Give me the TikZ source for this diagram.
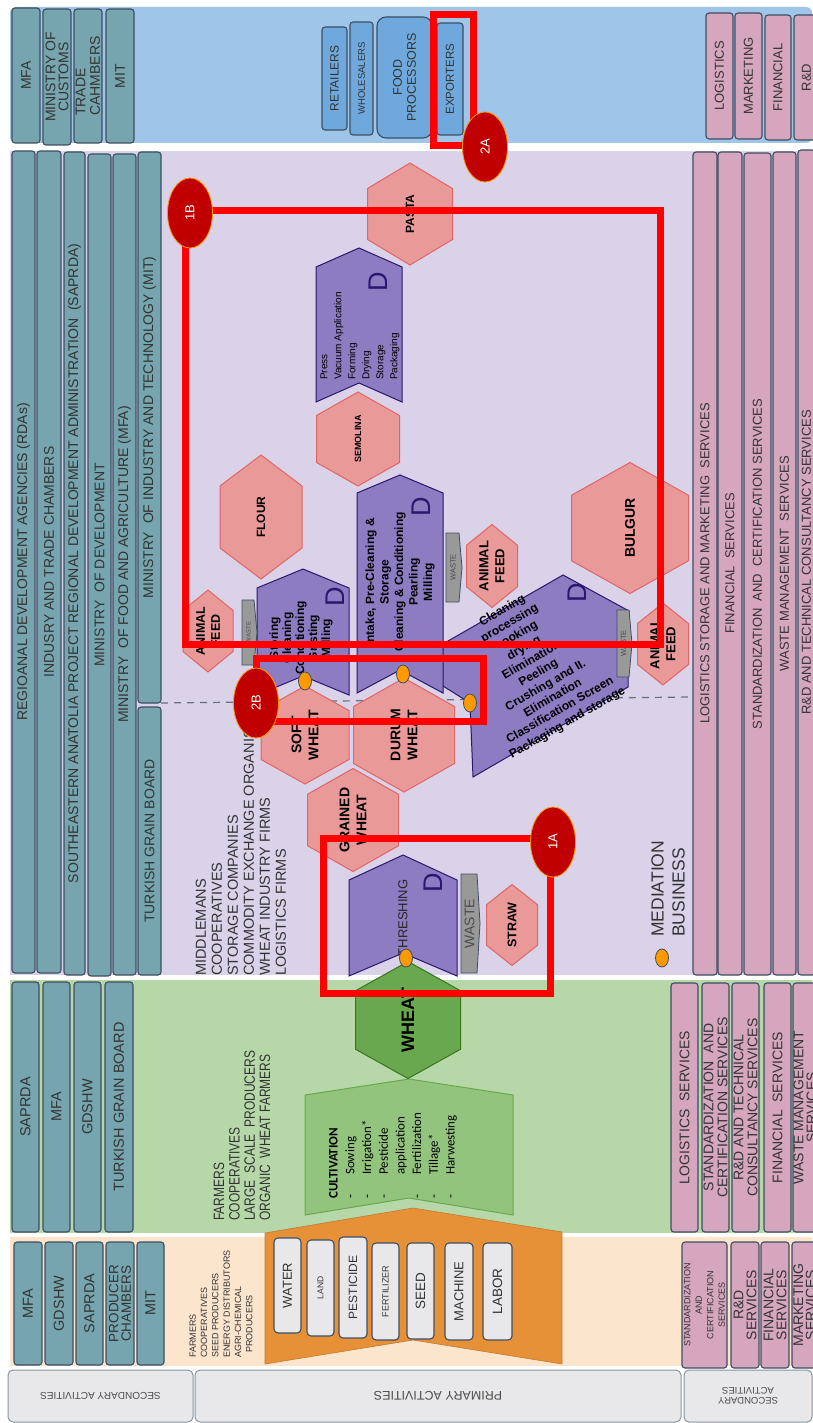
\documentclass[tikz,border=0pt]{standalone}
\usepackage{fontspec}
\usepackage{graphicx}
\setmainfont{Liberation Sans}
\newfontfamily\carl{Carlito}
\usetikzlibrary{shapes.geometric}

\definecolor{tealf}{RGB}{118,165,175}
\definecolor{boxline}{RGB}{62,78,98}
\definecolor{pinkf}{RGB}{213,166,189}
\definecolor{bluebg}{RGB}{159,197,232}
\definecolor{lavbg}{RGB}{217,210,233}
\definecolor{greenbg}{RGB}{182,215,168}
\definecolor{peachbg}{RGB}{252,229,205}
\definecolor{grayf}{RGB}{232,232,234}
\definecolor{blueb}{RGB}{111,168,220}
\definecolor{purf}{RGB}{142,124,195}
\definecolor{purl}{RGB}{40,24,110}
\definecolor{hexf}{RGB}{234,153,153}
\definecolor{hexl}{RGB}{224,102,102}
\definecolor{wheatf}{RGB}{106,168,79}
\definecolor{wheatl}{RGB}{56,118,29}
\definecolor{cultf}{RGB}{147,196,125}
\definecolor{cultl}{RGB}{106,168,79}
\definecolor{orangef}{RGB}{230,145,56}
\definecolor{wastef}{RGB}{153,153,153}
\definecolor{badgef}{RGB}{192,0,0}
\definecolor{badgel}{RGB}{255,153,0}
\definecolor{dotf}{RGB}{255,153,0}
\definecolor{redl}{RGB}{255,0,0}

\newcommand{\fs}[2]{\fontsize{#1}{#2}\selectfont}
% name, style, x1, y1, x2, y2, text  (text rotated 90)
\newcommand{\rbox}[7]{\node[#2, rotate=90, minimum width=#6-#4, minimum height=#5-#3] (#1) at ({(#3+#5)/2},{(#4+#6)/2}) {#7};}
% name, pathstyle, cx, cy, w, h, font, text
\newcommand{\hexa}[8]{%
  \path[#2] (#3,{#4-#6/2}) -- ({#3+#5/2},{#4-#6/4}) -- ({#3+#5/2},{#4+#6/4}) -- (#3,{#4+#6/2}) -- ({#3-#5/2},{#4+#6/4}) -- ({#3-#5/2},{#4-#6/4}) -- cycle;
  \node[hextext, font=#7] (#1) at (#3,#4) {#8};}
% name, style, x1, x2, ytip, yshoulder, ybottom, ynotch
\newcommand{\chev}[8]{%
  \path[#2] (#3,#6) -- ({(#3+#4)/2},#5) -- (#4,#6) -- (#4,#7) -- ({(#3+#4)/2},#8) -- (#3,#7) -- cycle;
  \coordinate (#1) at ({(#3+#4)/2},{(#6+#7)/2});}
% name, x1, y1, x2, y2, fontsize
\newcommand{\waste}[6]{%
  \path[wastebox] (#2,#3) -- ({#4-3},#3) -- (#4,{(#3+#5)/2}) -- ({#4-3},#5) -- (#2,#5) -- cycle;
  \node[rotate=90, inner sep=0pt, text=black!70, font=\fs{#6}{#6}] (#1) at ({(#2+#4)/2-1},{(#3+#5)/2}) {WASTE};}

\begin{document}
\begin{tikzpicture}[x=1pt,y=-1pt,
 gov/.style={draw=boxline, fill=tealf, line width=1.1pt, rounded corners=3pt, inner sep=0pt, align=center, text=black!80, font=\fs{14}{14}},
 pink/.style={gov, fill=pinkf, font=\fs{13}{14}},
 bbox/.style={gov, fill=blueb},
 inbox/.style={gov, fill=grayf, rounded corners=4pt},
 glab/.style={draw=boxline!60, fill=grayf, line width=1pt, rounded corners=5pt, inner sep=0pt, align=center, text=black!70},
 hexp/.style={fill=hexf, draw=hexl, line width=1pt},
 hexg/.style={fill=wheatf, draw=wheatl, line width=1pt},
 hextext/.style={rotate=90, align=center, inner sep=0pt, text=black},
 purp/.style={fill=purf, draw=purl, line width=1pt},
 wastebox/.style={fill=wastef, draw=boxline, line width=0.8pt},
 redbox/.style={draw=redl, line width=7pt},
 badge/.style={ellipse, fill=badgef, draw=badgel, line width=0.8pt, text=white, font=\fs{13}{13}, inner sep=0pt, rotate=90, minimum width=70, minimum height=45},
 mdot/.style={ellipse, fill=dotf, draw=boxline, line width=0.8pt, inner sep=0pt, minimum width=13, minimum height=18},
 dletter/.style={rotate=90, inner sep=0pt, text=purl, font=\fs{27}{27}},
 txt/.style={rotate=90, inner sep=0pt, text=black!80},
]
\useasboundingbox (0,0) rectangle (813,1423);
\fill[white] (0,0) rectangle (813,1423);

% ---------- background bands ----------
\path[fill=bluebg, rounded corners=6pt] (10,7) rectangle (812,143);
\path[fill=lavbg] (10,151) rectangle (812,975);
\path[fill=greenbg] (10,980) rectangle (812,1233);
\path[fill=peachbg] (10,1237) rectangle (812,1366);

% ---------- left column (institutions) ----------
\rbox{g1}{gov}{12}{8}{40}{143}{MFA}
\rbox{g2}{gov, font=\fs{14}{13}}{43}{9}{71}{145}{MINISTRY OF\\CUSTOMS}
\rbox{g3}{gov, align=left, font=\fs{14}{14.5}}{74}{9}{102}{143}{TRADE\\CAHMBERS}
\rbox{g4}{gov}{106}{9}{134}{143}{MIT}

\rbox{g5}{gov}{12}{151}{35}{973}{REGIOANAL DEVELOPMENT AGENCIES (RDAs)}
\rbox{g6}{gov}{37}{151}{61}{973}{INDUSRY AND TRADE CHAMBERS}
\rbox{g7}{gov}{64}{152}{85}{975}{SOUTHEASTERN ANATOLIA PROJECT REGIONAL DEVELOPMENT ADMINISTRATION\ \ (SAPRDA)}
\rbox{g8}{gov}{88}{154}{111}{976}{MINISTRY\ \ OF DEVELOPMENT}
\rbox{g9}{gov}{113}{154}{136}{975}{MINISTRY\ \ OF FOOD AND AGRICULTURE (MFA)}
\rbox{g10}{gov}{138}{152}{161}{703}{MINISTRY\ \ OF INDUSTRY AND TECHNOLOGY (MIT)}
\rbox{g11}{gov}{138}{707}{161}{975}{TURKISH GRAIN BOARD}

\rbox{g12}{gov, font=\fs{14.5}{14.5}}{12}{982}{39}{1232}{SAPRDA}
\rbox{g13}{gov, font=\fs{14.5}{14.5}}{43}{982}{70}{1232}{MFA}
\rbox{g14}{gov, font=\fs{14.5}{14.5}}{74}{982}{101}{1232}{GDSHW}
\rbox{g15}{gov, font=\fs{14.5}{14.5}}{105}{982}{133}{1232}{TURKISH GRAIN BOARD}

\rbox{g16}{gov, font=\fs{14.5}{14.5}}{14}{1242}{42}{1365}{MFA}
\rbox{g17}{gov, font=\fs{14.5}{14.5}}{45}{1242}{73}{1365}{GDSHW}
\rbox{g18}{gov, font=\fs{14.5}{14.5}}{76}{1242}{103}{1365}{SAPRDA}
\rbox{g19}{gov, font=\fs{13.5}{12.5}}{106}{1242}{134}{1365}{PRODUCER\\CHAMBERS}
\rbox{g20}{gov, font=\fs{14.5}{14.5}}{137}{1242}{164}{1365}{MIT}

% ---------- right column (services) ----------
\rbox{p1}{pink}{706}{13}{733}{139}{LOGISTICS}
\rbox{p2}{pink}{735}{13}{762}{139}{MARKETING}
\rbox{p3}{pink}{765}{15}{791}{140}{FINANCIAL}
\rbox{p4}{pink}{794}{15}{819}{140}{R\&D}

\rbox{p5}{pink}{693}{152}{717}{975}{LOGISTICS STORAGE AND MARKETING\ \ SERVICES}
\rbox{p6}{pink}{718}{152}{742}{975}{FINANCIAL\ \ SERVICES}
\rbox{p7}{pink}{744}{153}{771}{975}{STANDARDIZATION\ \ AND\ \ CERTIFICATION SERVICES}
\rbox{p8}{pink}{773}{152}{796}{975}{WASTE MANAGEMENT\ \ SERVICES}
\rbox{p9}{pink}{798}{150}{815}{975}{R\&D AND TECHNICAL CONSULTANCY SERVICES}

\rbox{p10}{pink, font=\fs{14}{14}}{671}{983}{698}{1232}{LOGISTICS\ \ SERVICES}
\rbox{p11}{pink, font=\fs{14}{14}}{702}{983}{729}{1232}{STANDARDIZATION\ \ AND\\CERTIFICATION SERVICES}
\rbox{p12}{pink, font=\fs{14}{14}}{732}{983}{759}{1232}{R\&D AND TECHNICAL\\CONSULTANCY SERVICES}
\rbox{p13}{pink, font=\fs{14}{14}}{764}{983}{791}{1232}{FINANCIAL\ \ SERVICES}
\rbox{p14}{pink, font=\fs{14}{13}}{793}{983}{817}{1232}{WASTE MANAGEMENT\\SERVICES}

\rbox{p15}{pink, font=\fs{9}{11.5}}{682}{1242}{727}{1368}{STANDARDIZATION\\AND\\CERTIFICATION\\SERVICES}
\rbox{p16}{pink, font=\fs{14}{13}}{731}{1242}{759}{1368}{R\&D\\SERVICES}
\rbox{p17}{pink, font=\fs{14}{13}}{761}{1242}{789}{1368}{FINANCIAL\\SERVICES}
\rbox{p18}{pink, font=\fs{14}{12.5}}{792}{1242}{817}{1368}{MARKETING\\SERVICES}

% ---------- bottom labels ----------
\node[glab, rotate=180, minimum width=185, minimum height=52, font=\fs{10}{10}] (sec1) at (100.5,1396) {SECONDARY ACTIVITIES};
\node[glab, rotate=180, minimum width=486, minimum height=52, font=\fs{12.5}{12}] (prim) at (438,1396) {PRIMARY ACTIVITIES};
\node[glab, rotate=180, minimum width=128, minimum height=52, font=\fs{9.5}{10.5}] (sec2) at (748,1396) {SECONDARY\\ACTIVITIES};

% ---------- market boxes ----------
\rbox{r1}{bbox, font=\fs{12}{12}}{322}{27}{347}{130}{RETAILERS}
\rbox{r2}{bbox, font=\fs{9.5}{10}}{350}{22}{373}{135}{WHOLESALERS}
\rbox{r3}{bbox, rounded corners=9pt, font=\fs{12.5}{14}}{377}{17}{432}{138}{FOOD\\PROCESSORS}
\rbox{r4}{bbox, font=\fs{11.5}{12}}{437}{23}{463}{135}{EXPORTERS}

% ---------- dashed separator ----------
\coordinate (dsA) at (161,703);
\coordinate (dsB) at (690,697);
\draw[draw=boxline!80, line width=1.2pt, dash pattern=on 7pt off 6pt] (dsA) -- (dsB);

% ---------- actor lists ----------
\node[txt, anchor=west, align=left, font=\fs{14.5}{16}] (lavlist) at (241,976) {MIDDLEMANS\\COOPERATIVES\\STORAGE COMPANIES\\COMMODITY EXCHANGE ORGANIS\\WHEAT INDUSTRY FIRMS\\LOGISTICS FIRMS};
\node[txt, anchor=west, align=left, font=\fs{15}{15.3}] (grnlist) at (242,1221) {\scalebox{0.8}[1]{FARMERS}\\\scalebox{0.8}[1]{COOPERATIVES}\\\scalebox{0.8}[1]{LARGE\ \ SCALE\ \ PRODUCERS}\\\scalebox{0.8}[1]{ORGANIC\ \ WHEAT FARMERS}};
\node[txt, anchor=west, align=left, font=\fs{9}{11.3}] (pchlist) at (221,1358) {FARMERS\\COOPERATIVES\\SEED PRODUCERS\\ENERGY DISTRIBUTORS\\AGRI-CHEMICAL\\\hspace*{5pt}PRODUCERS};

% ---------- inputs ----------
\path[fill=orangef, draw=orangef!85!black, line width=0.6pt] (265,1233) -- (413,1208) -- (562,1232) -- (562,1364) -- (413,1340) -- (265,1364) -- cycle;
\coordinate (inputs) at (413,1290);
\rbox{i1}{inbox, font=\fs{13}{13}}{274}{1238}{301}{1333}{WATER}
\rbox{i2}{inbox, font=\fs{8.5}{9}}{307}{1240}{334}{1336}{LAND}
\rbox{i3}{inbox, font=\fs{12}{12}}{339}{1237}{367}{1338}{PESTICIDE}
\rbox{i4}{inbox, font=\fs{9}{9}}{372}{1243}{399}{1340}{FERTILIZER}
\rbox{i5}{inbox, font=\fs{13.5}{13.5}}{407}{1243}{434}{1339}{SEED}
\rbox{i6}{inbox, font=\fs{13}{13}}{445}{1243}{473}{1340}{MACHINE}
\rbox{i7}{inbox, font=\fs{13.5}{13.5}}{483}{1243}{512}{1340}{LABOR}

% ---------- cultivation ----------
\chev{cult}{fill=cultf, draw=cultl, line width=1pt}{305}{513}{1079}{1095}{1215}{1198}
\node[txt, anchor=west, align=left, text=black, font=\carl\fs{13}{16.7}] (culttext) at (393,1199) {\textbf{CULTIVATION}\\\makebox[24pt][l]{-}Sowing\\\makebox[24pt][l]{-}Irrigation*\\\makebox[24pt][l]{-}Pesticide\\\hspace*{24pt}application\\\makebox[24pt][l]{-}Fertilization\\\makebox[24pt][l]{-}Tillage*\\\makebox[24pt][l]{-}Harwesting};

\hexa{wheat}{hexg}{408}{1020}{105}{117}{\bfseries\fs{18}{18}}{WHEAT}

% ---------- bulgur process (tilted) ----------
\path[purp] (408,664) -- (563,575) -- (629,611) -- (628,687) -- (473,777) -- (470,703) -- cycle;
\node[rotate=30, align=center, inner sep=0pt, text=black, font=\bfseries\fs{12}{14.4}] (bulgtext) at (535,667) {Cleaning\\processing\\cooking\\drying\\Elimination\\Peeling\\Crushing and II.\\Elimination\\Classification Screen\\Packaging and storage};
\node[dletter] (dbulg) at (577,593) {D};

% ---------- processing chevrons ----------
\chev{cpasta}{purp}{316}{402}{248}{267}{402}{383}
\node[txt, anchor=west, align=left, text=black, font=\fs{10}{14}] (pastatext) at (360,380) {Press\\Vacuum Application\\Forming\\Drying\\Storage\\Packaging};
\node[dletter] (dpasta) at (378,282) {D};

\chev{cdurum}{purp}{357}{443}{475}{493}{693}{670}
\node[txt, align=center, text=black, font=\bfseries\fs{12}{14.5}] (durtext) at (400,582) {Intake, Pre-Cleaning \&\\Storage\\Cleaning \& Conditioning\\Pearling\\Milling};
\node[dletter] (ddurum) at (421,507) {D};

\chev{csoft}{purp}{257}{349}{569}{588}{695}{676}
\node[txt, align=center, text=black, font=\bfseries\fs{12}{13}] (softtext) at (301,638) {Storing\\Cleaning\\Conditioning\\Gristing\\Milling};
\node[dletter] (dsoft) at (335,597) {D};

\chev{cthresh}{purp}{349}{457}{855}{880}{976}{953}
\node[txt, text=black!85, font=\fs{13}{13}] (threshtext) at (403,918) {THRESHING};
\node[dletter] (dthresh) at (433,883) {D};

% ---------- waste arrows ----------
\waste{wsoft}{242}{600}{257}{665}{6}
\waste{wdurum}{446}{533}{462}{602}{7.5}
\waste{wbulg}{617}{610}{632}{677}{7.5}
\waste{wthresh}{461}{874}{480}{973}{14}

% ---------- products ----------
\hexa{pasta}{hexp}{410}{214}{85}{102}{\bfseries\fs{12}{12}}{PASTA}
\hexa{semolina}{hexp}{358}{439}{83}{94}{\bfseries\fs{9}{9}}{SEMOLINA}
\hexa{flour}{hexp}{261}{517}{82}{124}{\bfseries\fs{12}{12}}{FLOUR}
\hexa{afsoft}{hexp}{208}{631}{50}{82}{\bfseries\fs{12.5}{15}}{ANIMAL\\FEED}
\hexa{afdurum}{hexp}{492}{566}{51}{83}{\bfseries\fs{13}{16}}{ANIMAL\\FEED}
\hexa{bulgur}{hexp}{630}{528}{117}{131}{\bfseries\fs{14}{14}}{BULGUR}
\hexa{afbulg}{hexp}{663}{644}{51}{82}{\bfseries\fs{13}{16}}{ANIMAL\\FEED}
\hexa{soft}{hexp}{305}{735}{88}{98}{\bfseries\fs{14}{17}}{SOFT\\WHEAT}
\hexa{durum}{hexp}{404}{735}{101}{114}{\bfseries\fs{14}{17}}{DURUM\\WHEAT}
\hexa{grained}{hexp}{353}{820}{91}{103}{\bfseries\fs{14}{17}}{GRAINED\\WHEAT}
\hexa{straw}{hexp}{512}{925}{51}{81}{\bfseries\fs{12.5}{12.5}}{STRAW}

% ---------- mediation points ----------
\node[mdot] (mthresh) at (406,958) {};
\node[mdot] (msoft) at (305,681) {};
\node[mdot] (mdurum) at (403,674) {};
\node[mdot] (mbulg) at (470,703) {};
\node[mdot] (mlegend) at (662,958) {};
\node[txt, anchor=west, align=left, font=\fs{17.5}{21}] (medtext) at (668,937) {MEDIATION\\BUSINESS};

% ---------- highlight frames ----------
\coordinate (f1a) at (323,838); \coordinate (f1b) at (550,993);
\draw[redbox] (f1a) rectangle (f1b);
\coordinate (f2a) at (256,658); \coordinate (f2b) at (483,721);
\draw[redbox] (f2a) rectangle (f2b);
\coordinate (f3a) at (185,211); \coordinate (f3b) at (660,644);
\draw[redbox] (f3a) rectangle (f3b);
\coordinate (f4a) at (433.5,14.5); \coordinate (f4b) at (473.5,146);
\draw[redbox] (f4a) rectangle (f4b);

% ---------- badges ----------
\node[badge] (b1A) at (553,842) {1A};
\node[badge] (b1B) at (190,213) {1B};
\node[badge] (b2A) at (485,147) {2A};
\node[badge] (b2B) at (256,703) {2B};
\end{tikzpicture}
\end{document}
